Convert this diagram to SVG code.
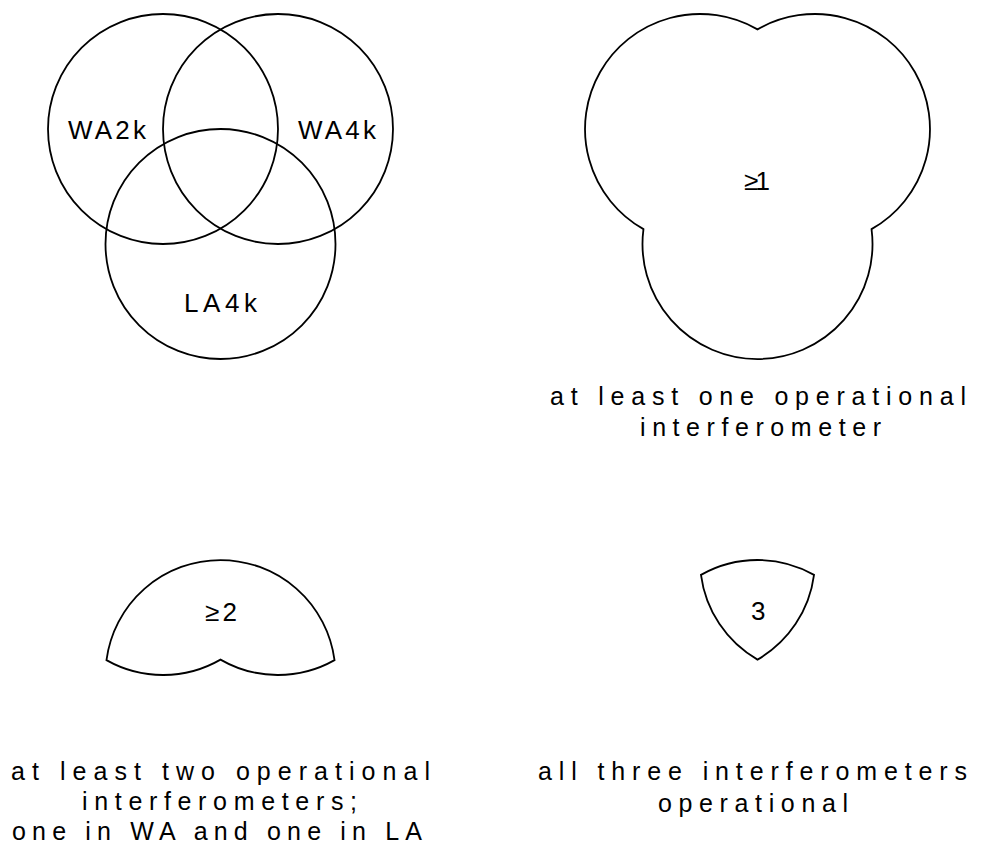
<svg xmlns="http://www.w3.org/2000/svg" width="982" height="846" viewBox="0 0 982 846">
<style>
.s{fill:none;stroke:#000;stroke-width:1.8}
.t{font-family:"Liberation Sans","DejaVu Sans",sans-serif;fill:#000}
.lb{font-size:26px}
.cp{font-size:25px}
</style>
<rect width="982" height="846" fill="#fff"/>
<g id="venn">
<circle class="s" cx="163" cy="129" r="115"/>
<circle class="s" cx="278" cy="129" r="115"/>
<circle class="s" cx="220.5" cy="244" r="115"/>
<text class="t lb" x="68" y="139" textLength="78" lengthAdjust="spacing">WA2k</text>
<text class="t lb" x="298" y="139" textLength="78" lengthAdjust="spacing">WA4k</text>
<text class="t lb" x="184" y="312" textLength="73" lengthAdjust="spacing">LA4k</text>
</g>
<g id="atleast1">
<path class="s" d="M757.5,29.4 A115,115 0 1 0 643.47,229.14 A115,115 0 1 0 871.53,229.14 A115,115 0 1 0 757.5,29.4 Z"/>
<text class="t lb" x="744" y="190" textLength="26" lengthAdjust="spacing">≥1</text>
<text class="t cp" x="550" y="405" textLength="416" lengthAdjust="spacing">at least one operational</text>
<text class="t cp" x="640" y="436" textLength="241" lengthAdjust="spacing">interferometer</text>
</g>
<g id="atleast2">
<path class="s" d="M106.47,660.14 A115,115 0 0 1 334.53,660.14 A115,115 0 0 1 220.5,659.6 A115,115 0 0 1 106.47,660.14 Z"/>
<text class="t lb" x="205" y="621" textLength="32" lengthAdjust="spacing">≥2</text>
<text class="t cp" x="11" y="780" textLength="419" lengthAdjust="spacing">at least two operational</text>
<text class="t cp" x="82" y="810" textLength="275" lengthAdjust="spacing">interferometers;</text>
<text class="t cp" x="12" y="840" textLength="410" lengthAdjust="spacing">one in WA and one in LA</text>
</g>
<g id="all3">
<path class="s" d="M700.97,574.86 A115,115 0 0 1 814.03,574.86 A115,115 0 0 1 757.5,659.6 A115,115 0 0 1 700.97,574.86 Z"/>
<text class="t lb" x="751" y="620">3</text>
<text class="t cp" x="538" y="780" textLength="429" lengthAdjust="spacing">all three interferometers</text>
<text class="t cp" x="658" y="812" textLength="190" lengthAdjust="spacing">operational</text>
</g>
</svg>
